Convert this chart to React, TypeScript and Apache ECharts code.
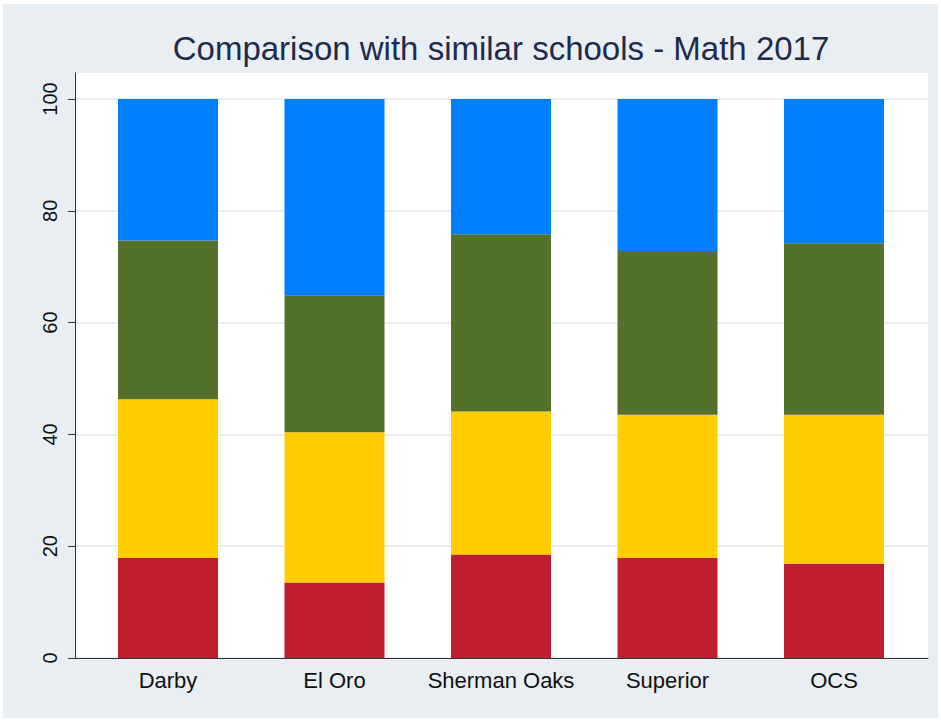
import React, { useEffect, useRef } from "react";
import * as echarts from "echarts";

const titleText = "Comparison with similar schools - Math 2017";
const schools = ["Darby", "El Oro", "Sherman Oaks", "Superior", "OCS"];
const redSeg = [17.9, 13.5, 18.5, 17.9, 16.8];
const yellowSeg = [28.4, 26.9, 25.6, 25.6, 26.7];
const greenSeg = [28.4, 24.5, 31.7, 29.3, 30.7];
const blueSeg = [25.3, 35.1, 24.2, 27.2, 25.8];
const yTicks = [0, 20, 40, 60, 80, 100];

const FONT = "'Liberation Sans', Arial, Helvetica, sans-serif";

export default function App() {
  const ref = useRef<HTMLDivElement>(null);
  useEffect(() => {
    if (!ref.current) return;
    const chart = echarts.init(ref.current, undefined, { renderer: "svg" });
    const mk = (name: string, data: number[], color: string) => ({
      name,
      type: "bar",
      stack: "total",
      xAxisIndex: 2,
      yAxisIndex: 2,
      barWidth: 100,
      data,
      itemStyle: { color },
    });
    chart.setOption({
      animation: false,
      backgroundColor: "#ffffff",
      textStyle: { fontFamily: FONT },
      graphic: [
        {
          type: "rect",
          z: -10,
          silent: true,
          shape: { x: 3, y: 4, width: 935, height: 714 },
          style: { fill: "#e8eef2" },
        },
        {
          type: "text",
          x: 501,
          y: 48,
          style: {
            text: titleText,
            fill: "#1e2b4f",
            font: `33px ${FONT}`,
            textAlign: "center",
            textVerticalAlign: "middle",
          },
        },
      ],
      grid: [
        { left: 75, right: 13, top: 73, bottom: 63, show: true, backgroundColor: "#ffffff", borderWidth: 0 },
        { left: 75, right: 13, top: 99, bottom: 63 },
        { left: 84.75, right: 23.75, top: 99, bottom: 63 },
      ],
      xAxis: [
        {
          gridIndex: 0,
          type: "category",
          data: schools,
          axisLine: { show: true, lineStyle: { color: "#333", width: 1 } },
          axisTick: { show: false },
          axisLabel: { show: false },
          splitLine: { show: false },
        },
        { gridIndex: 1, type: "category", data: schools, show: false },
        {
          gridIndex: 2,
          type: "category",
          data: schools,
          axisLine: { show: false },
          axisTick: { show: false },
          axisLabel: { interval: 0, fontSize: 22, color: "#111", margin: 11, fontFamily: FONT },
        },
      ],
      yAxis: [
        {
          gridIndex: 0,
          type: "value",
          min: 0,
          max: 1,
          axisLine: { show: true, lineStyle: { color: "#333", width: 1 } },
          axisTick: { show: false },
          axisLabel: { show: false },
          splitLine: { show: false },
        },
        {
          gridIndex: 1,
          type: "value",
          min: yTicks[0],
          max: yTicks[yTicks.length - 1],
          interval: 20,
          axisLine: { show: false },
          axisTick: { show: true, length: 7, lineStyle: { color: "#333" } },
          axisLabel: { rotate: 90, fontSize: 20, color: "#111", margin: 15, fontFamily: FONT },
          splitLine: { show: true, lineStyle: { color: "#e4eaef", width: 1.5 } },
        },
        { gridIndex: 2, type: "value", min: 0, max: 100, show: false },
      ],
      series: [
        mk("Red", redSeg, "#be1e2d"),
        mk("Yellow", yellowSeg, "#ffcd00"),
        mk("Green", greenSeg, "#54712b"),
        mk("Blue", blueSeg, "#0080ff"),
      ],
    });
    return () => chart.dispose();
  }, []);
  return (
    <div
      ref={ref}
      style={{ position: "fixed", left: 0, top: 0, width: 941, height: 721 }}
    />
  );
}
